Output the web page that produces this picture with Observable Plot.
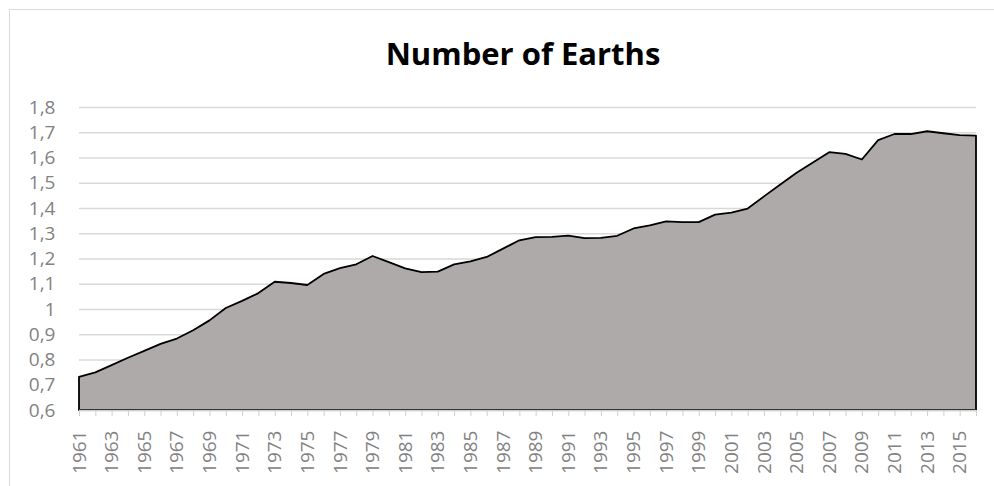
<!DOCTYPE html>
<html>
<head>
<meta charset="utf-8">
<script src="https://cdn.jsdelivr.net/npm/d3@7"></script>
<script src="https://cdn.jsdelivr.net/npm/@observablehq/plot@0.6"></script>
<style>
  html, body { margin: 0; padding: 0; background: #fff; }
  #wrap { position: relative; width: 994px; height: 486px; overflow: hidden; }
  #frame { position: absolute; left: 9px; top: 9px; width: 1000px; height: 500px;
           border-top: 1px solid #d9d9d9; border-left: 1px solid #d9d9d9; box-sizing: border-box; }
  #title { position: absolute; left: 0; width: 1046px; top: 33px; text-align: center;
           font-family: "Open Sans", sans-serif; font-weight: 700; font-size: 31px; color: #000; margin: 0; line-height: 40px; }
  #chart { position: absolute; left: 0; top: 0; }
  #chart svg text { font-family: "Open Sans", sans-serif !important; font-size: 19px !important; }
</style>
</head>
<body>
<div id="wrap">
  <div id="frame"></div>
  <div id="title">Number of Earths</div>
  <div id="chart"></div>
</div>
<script>
const years = d3.range(1961, 2017);
const earths = [
  0.731, 0.749, 0.778, 0.807, 0.834, 0.862, 0.883, 0.916, 0.955, 1.004,
  1.032, 1.063, 1.108, 1.103, 1.095, 1.139, 1.162, 1.177, 1.210, 1.186,
  1.161, 1.146, 1.148, 1.177, 1.189, 1.206, 1.239, 1.272, 1.285, 1.286,
  1.291, 1.281, 1.282, 1.290, 1.319, 1.331, 1.347, 1.344, 1.344, 1.374,
  1.382, 1.398, 1.446, 1.493, 1.540, 1.580, 1.621, 1.614, 1.592, 1.669,
  1.693, 1.693, 1.704, 1.696, 1.689, 1.687
];
const yTicks = [0.6, 0.7, 0.8, 0.9, 1.0, 1.1, 1.2, 1.3, 1.4, 1.5, 1.6, 1.7, 1.8];
const xTickLabels = years.filter(y => (y - 1961) % 2 === 0);

const data = years.map((y, i) => ({year: y, value: earths[i]}));
const fmtY = d => String(Math.round(d * 10) / 10).replace(".", ",");

const chart = Plot.plot({
  width: 994,
  height: 486,
  marginLeft: 79,
  marginRight: 18,
  marginTop: 107,
  marginBottom: 76,
  style: {fontFamily: "'Open Sans', sans-serif", fontSize: "19px", background: "transparent"},
  x: {type: "linear", domain: [1961, 2016], label: null},
  y: {domain: [0.6, 1.8], label: null},
  marks: [
    Plot.gridY(yTicks, {stroke: "#d9d9d9", strokeOpacity: 1, strokeWidth: 1.3}),
    Plot.areaY(data, {x: "year", y1: 0.6, y2: "value", fill: "#aeaaa9", stroke: "#000", strokeWidth: 1.8}),
    Plot.ruleY([0.6], {stroke: "#d0d0d0", strokeWidth: 1.5}),
    Plot.axisY(yTicks, {tickSize: 0, tickPadding: 24, tickFormat: fmtY, fill: "#828282", fontSize: 19, label: null}),
    Plot.axisX(years, {tickSize: 6, stroke: "#d0d0d0", tickFormat: () => "", label: null}),
    Plot.axisX(xTickLabels, {tickSize: 0, tickPadding: 20, tickRotate: -90, tickFormat: d => String(d), fill: "#828282", fontSize: 19, label: null})
  ]
});
document.getElementById("chart").appendChild(chart);
</script>
</body>
</html>
